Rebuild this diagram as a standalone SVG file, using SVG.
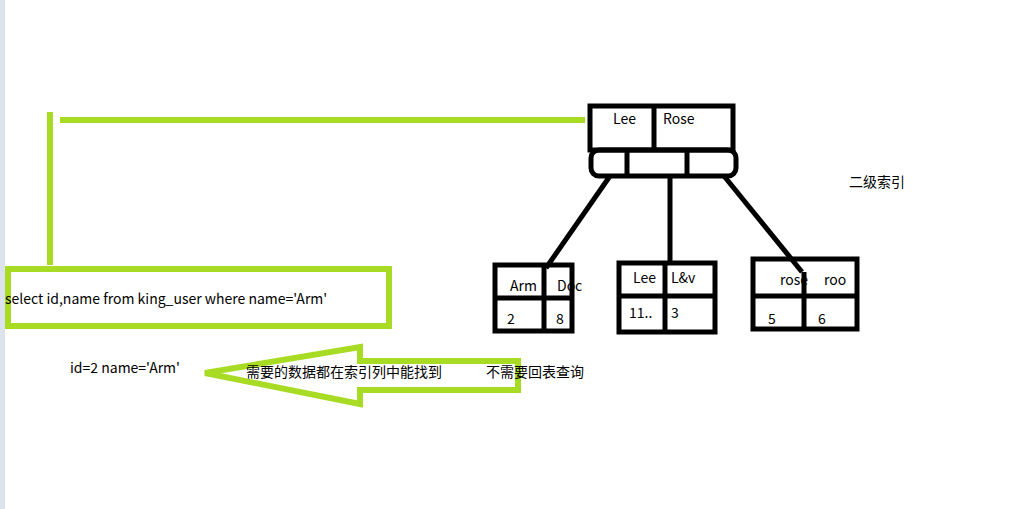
<svg xmlns="http://www.w3.org/2000/svg" width="1019" height="509" viewBox="0 0 1019 509">
<style>
.k{fill:none;stroke:#000;stroke-width:5}
.g{fill:none;stroke:#a8dc24;stroke-width:6}
text{font-family:"Noto Sans CJK SC","Liberation Sans",sans-serif;font-size:14px;fill:#000}
</style>
<rect width="1019" height="509" fill="#fff"/>
<rect x="0" y="0" width="5" height="509" fill="#dde3ec"/>
<g id="connectors">
<line class="g" x1="60" y1="120" x2="585" y2="120"/>
<line class="g" x1="50" y1="112" x2="50" y2="265"/>
<line class="k" x1="610" y1="176" x2="546" y2="268"/>
<line class="k" x1="670" y1="176" x2="670" y2="265"/>
<line class="k" x1="724" y1="176" x2="802" y2="272"/>
<polygon class="g" stroke-width="5" points="205,373 360,347 360,361 518,361 518,390 360,390 360,404"/>
</g>
<g id="query"><rect class="g" x="8" y="269" width="381" height="57"/><text x="5" y="304" font-size="15">select id,name from king_user where name='Arm'</text></g>
<g id="result"><text x="70" y="373">id=2 name='Arm'</text></g>
<g id="note"><text x="246" y="377" font-size="13">需要的数据都在索引列中能找到</text><text x="486" y="377" font-size="13">不需要回表查询</text></g>
<g id="root"><rect class="k" x="590" y="106" width="143" height="44"/><line class="k" x1="654" y1="106" x2="654" y2="150"/><text x="613" y="124">Lee</text><text x="663" y="124">Rose</text>
<rect class="k" x="591" y="150" width="145" height="26" rx="8"/><line class="k" x1="627" y1="150" x2="627" y2="176"/><line class="k" x1="687" y1="150" x2="687" y2="176"/></g>
<g id="label"><text x="849" y="187" font-size="13">二级索引</text></g>
<g id="leaf1"><rect class="k" x="495" y="265" width="77" height="66"/><line class="k" x1="495" y1="298" x2="572" y2="298"/><line class="k" x1="544" y1="265" x2="544" y2="331"/><text x="510" y="291">Arm</text><text x="557" y="291">Doc</text><text x="507" y="324">2</text><text x="556" y="324">8</text></g>
<g id="leaf2"><rect class="k" x="619" y="263" width="96" height="69"/><line class="k" x1="619" y1="296" x2="715" y2="296"/><line class="k" x1="665" y1="263" x2="665" y2="332"/><text x="633" y="283">Lee</text><text x="671" y="283">L&amp;v</text><text x="629" y="318">11..</text><text x="671" y="318">3</text></g>
<g id="leaf3"><rect class="k" x="753" y="259" width="104" height="70"/><line class="k" x1="753" y1="296" x2="857" y2="296"/><line class="k" x1="804" y1="272" x2="804" y2="329"/><text x="780" y="285">rose</text><text x="824" y="285">roo</text><text x="768" y="324">5</text><text x="818" y="324">6</text></g>
</svg>
